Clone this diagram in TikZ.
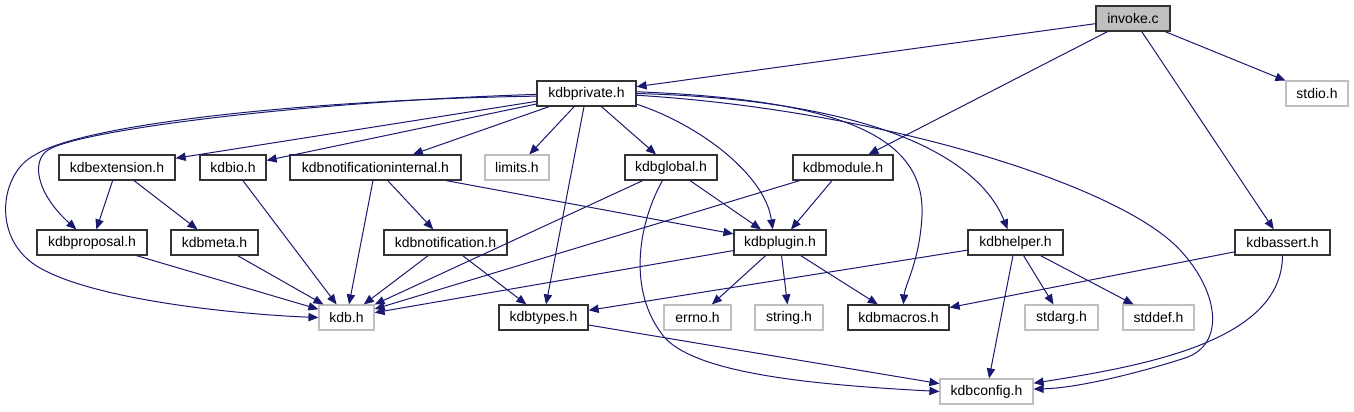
\documentclass[tikz,border=0pt]{standalone}
\usepackage{fontspec}
\setmainfont{Liberation Sans}
\usepackage{xcolor}
\usepackage{tikz}
\usetikzlibrary{arrows.meta}
\definecolor{DGEdge}{RGB}{25,25,112}
\definecolor{DGGray}{RGB}{191,191,191}

\begin{document}
\begin{tikzpicture}[x=0.75pt, y=-0.75pt,
          hf/.style={rectangle, draw=black!80, line width=0.9pt, fill=white,
                     inner sep=0pt, minimum height=18.75pt,
                     font=\fontsize{10.5}{12}\selectfont},
          sysf/.style={hf, draw=DGGray},
          bw/.style={minimum width=#1*0.75pt},
          arr/.style={-{Triangle[length=7.5pt, width=6.2pt]}, draw=DGEdge, line width=0.75pt}
        ]
        \useasboundingbox (0,0) rectangle (1354,411);

        \node[hf, bw=74, fill=DGGray] (inv) at (1133, 18.5) {invoke.c};

        \node[hf, bw=99]    (priv)  at (586.5, 93.5) {kdbprivate.h};
        \node[sysf, bw=62]  (stdio) at (1317, 93.5)  {stdio.h};

        \node[hf, bw=116]   (ext)   at (117, 167.5)   {kdbextension.h};
        \node[hf, bw=66]    (kio)   at (233, 167.5)   {kdbio.h};
        \node[hf, bw=171]   (ninl)  at (375.5, 167.5) {kdbnotificationinternal.h};
        \node[sysf, bw=64]  (lim)   at (517, 167.5)   {limits.h};
        \node[hf, bw=92]    (glob)  at (671, 167.5)   {kdbglobal.h};
        \node[hf, bw=100]   (mod)   at (843, 167.5)   {kdbmodule.h};

        \node[hf, bw=110]   (prop)  at (92, 242.5)     {kdbproposal.h};
        \node[hf, bw=87]    (meta)  at (214.5, 242.5)  {kdbmeta.h};
        \node[hf, bw=123]   (notif) at (445.5, 242.5)  {kdbnotification.h};
        \node[hf, bw=92]    (plug)  at (780, 242.5)    {kdbplugin.h};
        \node[hf, bw=95]    (help)  at (1015.5, 242.5) {kdbhelper.h};
        \node[hf, bw=95]    (asrt)  at (1282.5, 242.5) {kdbassert.h};

        \node[sysf, bw=55]  (kdb)    at (346.5, 317.5)  {kdb.h};
        \node[hf, bw=89]    (types)  at (543.5, 317.5)  {kdbtypes.h};
        \node[sysf, bw=67]  (errno)  at (697.5, 317.5)  {errno.h};
        \node[sysf, bw=68]  (str)    at (789, 317.5)    {string.h};
        \node[hf, bw=101]   (macros) at (898.5, 317.5)  {kdbmacros.h};
        \node[sysf, bw=73]  (stdarg) at (1061.5, 317.5) {stdarg.h};
        \node[sysf, bw=71]  (stddef) at (1158.5, 317.5) {stddef.h};

        \node[sysf, bw=93]  (conf)   at (986.5, 391.5)  {kdbconfig.h};

        \draw[arr] (inv) -- (priv);
        \draw[arr] (inv) -- (mod);
        \draw[arr] (inv) -- (asrt);
        \draw[arr] (inv) -- (stdio);

        \draw[arr] (priv) -- (ext);
        \draw[arr] (priv) -- (kio);
        \draw[arr] (priv) -- (ninl);
        \draw[arr] (priv) -- (lim);
        \draw[arr] (priv) -- (glob);
        \draw[arr] (priv) -- (types);
        \draw[arr] (priv.183) .. controls (300,100) and (80,125) .. (35,155)
                   .. controls (0,172) and (-10,240) .. (40,268)
                   .. controls (100,302) and (250,315) .. (kdb.west);
        \draw[arr] (priv.181) .. controls (300,102) and (80,130) .. (48,150)
                   .. controls (30,162) and (38,195) .. (prop.140);
        \draw[arr] (priv.-12) .. controls (700,125) and (765,175) .. (plug.119);
        \draw[arr] (priv.2) .. controls (850,100) and (925,140) .. (922,215)
                   .. controls (920,260) and (905,285) .. (macros.70);
        \draw[arr] (priv.0) .. controls (880,100) and (980,160) .. (help.121);
        \draw[arr] (priv.-2) .. controls (880,110) and (1120,185) .. (1180,250)
                   .. controls (1220,293) and (1225,345) .. (1185,358)
                   .. controls (1145,371) and (1080,388) .. (conf.3);

        \draw[arr] (ext) -- (prop);
        \draw[arr] (ext) -- (meta);
        \draw[arr] (kio) -- (kdb);
        \draw[arr] (ninl) -- (kdb);
        \draw[arr] (ninl) -- (notif);
        \draw[arr] (ninl) -- (plug);
        \draw[arr] (glob) -- (kdb);
        \draw[arr] (glob) -- (plug);
        \draw[arr] (glob.237) .. controls (640,220) and (625,290) .. (665,338)
                   .. controls (700,375) and (820,385) .. (conf.180);
        \draw[arr] (mod) -- (kdb);
        \draw[arr] (mod) -- (plug);

        \draw[arr] (prop) -- (kdb);
        \draw[arr] (meta) -- (kdb);
        \draw[arr] (notif) -- (kdb);
        \draw[arr] (notif) -- (types);
        \draw[arr] (plug) -- (kdb);
        \draw[arr] (plug) -- (errno);
        \draw[arr] (plug) -- (str);
        \draw[arr] (plug) -- (macros);
        \draw[arr] (help) -- (types);
        \draw[arr] (help) -- (stdarg);
        \draw[arr] (help) -- (stddef);
        \draw[arr] (help) -- (conf);
        \draw[arr] (asrt) -- (macros);
        \draw[arr] (asrt.south) .. controls (1282,340) and (1150,365) .. (conf.10);

        \draw[arr] (types) -- (conf);
      \end{tikzpicture}
\end{document}
